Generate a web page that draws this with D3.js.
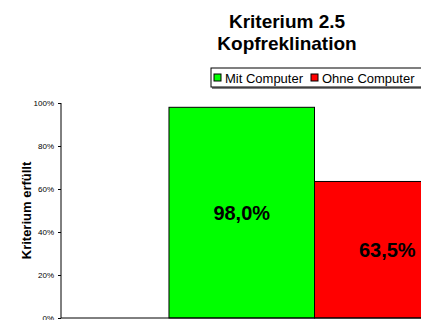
<!DOCTYPE html>
<html>
<head>
<meta charset="utf-8">
<script src="https://cdn.jsdelivr.net/npm/d3@7"></script>
<style>
  html, body { margin: 0; padding: 0; background: #fff; }
  svg { display: block; font-family: "Liberation Sans", Arial, sans-serif; }
</style>
</head>
<body>
<svg id="chart" width="421" height="320"></svg>
<script>
// Chart data
const categories = ["Kriterium 2.5"];
const seriesNames = ["Mit Computer", "Ohne Computer"];
const seriesColors = ["#00ff00", "#ff0000"];
const seriesValues = [0.98, 0.635];
const valueLabels = ["98,0%", "63,5%"];
const yTicks = [0, 0.2, 0.4, 0.6, 0.8, 1.0];
const titleLines = ["Kriterium 2.5", "Kopfreklination"];
const yTitle = "Kriterium erfüllt";

const svg = d3.select("#chart");

// Plot area (the frame continues past the right edge of the view)
const plot = { left: 61, right: 568, top: 103, bottom: 318 };

const y = d3.scaleLinear().domain([0, 1]).range([plot.bottom, plot.top]);

const x0 = d3.scaleBand()
  .domain(categories)
  .range([plot.left, plot.right])
  .paddingInner(0)
  .paddingOuter(0.371);

const x1 = d3.scaleBand()
  .domain(seriesNames)
  .range([0, x0.bandwidth()])
  .padding(0);

// Bars
const g = svg.append("g");
const rows = seriesNames.map((s, i) => ({
  series: s, value: seriesValues[i], color: seriesColors[i], label: valueLabels[i], cat: categories[0]
}));

g.selectAll("rect.bar")
  .data(rows)
  .join("rect")
  .attr("class", "bar")
  .attr("x", d => x0(d.cat) + x1(d.series))
  .attr("y", d => y(d.value))
  .attr("width", x1.bandwidth())
  .attr("height", d => y(0) - y(d.value))
  .attr("fill", d => d.color)
  .attr("stroke", "#000")
  .attr("stroke-width", 1);

// Value labels centred in each bar
g.selectAll("text.val")
  .data(rows)
  .join("text")
  .attr("class", "val")
  .attr("x", d => x0(d.cat) + x1(d.series) + x1.bandwidth() / 2)
  .attr("y", d => (y(d.value) + y(0)) / 2)
  .attr("dy", "0.36em")
  .attr("text-anchor", "middle")
  .attr("font-weight", "bold")
  .attr("font-size", 20)
  .attr("fill", "#000")
  .text(d => d.label);

// Y axis
const yAxis = d3.axisLeft(y)
  .tickValues(yTicks)
  .tickFormat(d3.format(".0%"))
  .tickSize(3)
  .tickPadding(4);

const ya = svg.append("g")
  .attr("transform", `translate(${plot.left},0)`)
  .call(yAxis);
ya.select(".domain").attr("stroke", "#000").attr("d", `M-0,${plot.top}V${plot.bottom}`);
ya.selectAll(".tick line").attr("stroke", "#000");
ya.selectAll(".tick text")
  .attr("font-size", 8)
  .attr("font-family", "\"Liberation Sans\", Arial, sans-serif")
  .attr("fill", "#000");

// Category axis line
svg.append("line")
  .attr("x1", plot.left).attr("x2", plot.right)
  .attr("y1", y(0)).attr("y2", y(0))
  .attr("stroke", "#000");

// Y axis title
svg.append("text")
  .attr("transform", `translate(31,${(plot.top + plot.bottom) / 2}) rotate(-90)`)
  .attr("text-anchor", "middle")
  .attr("font-weight", "bold")
  .attr("font-size", 13)
  .attr("fill", "#000")
  .text(yTitle);

// Chart title
svg.append("g").selectAll("text")
  .data(titleLines)
  .join("text")
  .attr("x", 287)
  .attr("y", (d, i) => 28 + i * 22)
  .attr("text-anchor", "middle")
  .attr("font-weight", "bold")
  .attr("font-size", 19)
  .attr("fill", "#000")
  .text(d => d);

// Legend
const legend = svg.append("g").attr("transform", "translate(211,68)");
legend.append("rect")
  .attr("x", 1).attr("y", 2).attr("width", 230).attr("height", 19)
  .attr("fill", "#808080");
legend.append("rect")
  .attr("x", 0).attr("y", 0).attr("width", 230).attr("height", 19)
  .attr("fill", "#fff").attr("stroke", "#000");

const legendX = [3, 100];
const items = legend.selectAll("g.item")
  .data(seriesNames)
  .join("g")
  .attr("class", "item")
  .attr("transform", (d, i) => `translate(${legendX[i]},0)`);
items.append("rect")
  .attr("x", 0).attr("y", 6).attr("width", 7).attr("height", 7)
  .attr("fill", (d, i) => seriesColors[i])
  .attr("stroke", "#000");
items.append("text")
  .attr("x", 11).attr("y", 14.5)
  .attr("font-size", 13)
  .attr("fill", "#000")
  .text(d => d);
</script>
</body>
</html>
